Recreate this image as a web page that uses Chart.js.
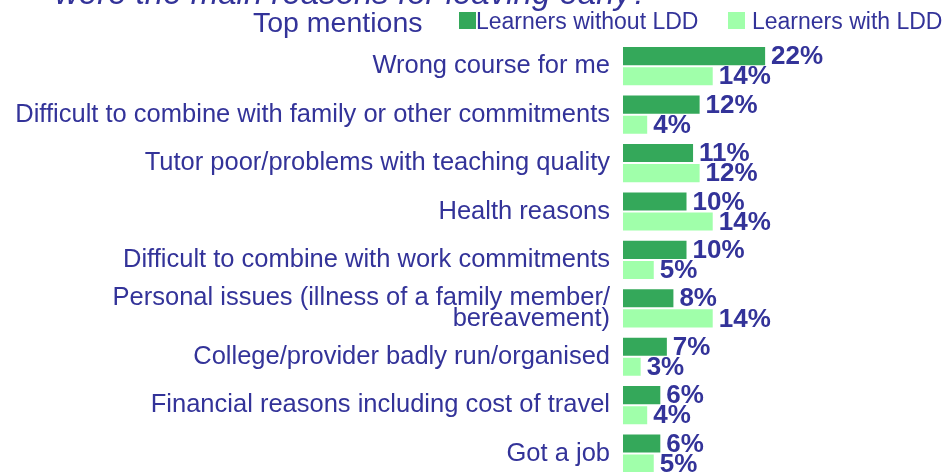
<!DOCTYPE html>
<html>
<head>
<meta charset="utf-8">
<script src="https://cdn.jsdelivr.net/npm/chart.js@4/dist/chart.umd.min.js"></script>
<style>
  html, body { margin: 0; padding: 0; background: #fff; overflow: hidden; }
  canvas { display: block; }
</style>
</head>
<body>
<canvas id="myChart" width="943" height="492"></canvas>
<script>
// data
const reasons = [
    'Wrong course for me',
    'Difficult to combine with family or other commitments',
    'Tutor poor/problems with teaching quality',
    'Health reasons',
    'Difficult to combine with work commitments',
    ['Personal issues (illness of a family member/', 'bereavement)'],
    'College/provider badly run/organised',
    'Financial reasons including cost of travel',
    'Got a job'
];
const withoutLDD = [22, 12, 11, 10, 10, 8, 7, 6, 6];
const withLDD = [14, 4, 12, 14, 5, 14, 3, 4, 5];
const seriesNames = ['Learners without LDD', 'Learners with LDD'];

const textColor = '#333399';
const darkGreen = '#34a85a';
const lightGreen = '#a0ffaa';
const fontFamily = '"Liberation Sans", Arial, sans-serif';

// value labels at the end of each bar
const valueLabels = {
    id: 'valueLabels',
    afterDatasetsDraw(chart) {
        const ctx = chart.ctx;
        ctx.save();
        ctx.font = 'bold 26px ' + fontFamily;
        ctx.fillStyle = textColor;
        ctx.textAlign = 'left';
        ctx.textBaseline = 'middle';
        chart.data.datasets.forEach((ds, i) => {
            chart.getDatasetMeta(i).data.forEach((bar, j) => {
                ctx.fillText(ds.data[j] + '%', bar.x + 5, bar.y + 1);
            });
        });
        ctx.restore();
    }
};

// title, subtitle and legend across the top
const header = {
    id: 'header',
    afterDraw(chart) {
        const ctx = chart.ctx;
        ctx.save();
        ctx.fillStyle = textColor;
        ctx.textBaseline = 'alphabetic';
        ctx.font = 'italic 33px ' + fontFamily;
        ctx.fillText('were the main reasons for leaving early?', 55, 4);

        ctx.font = '28.5px ' + fontFamily;
        ctx.fillText('Top mentions', 253, 32);

        const boxes = [459, 728];
        ctx.font = '23px ' + fontFamily;
        chart.data.datasets.forEach((ds, i) => {
            ctx.fillStyle = ds.backgroundColor;
            ctx.fillRect(boxes[i], 12, 17, 17);
            ctx.fillStyle = textColor;
            ctx.fillText(ds.label, boxes[i] + 17 + (i ? 7 : 0), 29);
        });
        ctx.restore();
    }
};

const config = {
    type: 'bar',
    data: {
        labels: reasons,
        datasets: [{
            label: seriesNames[0],
            data: withoutLDD,
            backgroundColor: darkGreen,
            borderColor: '#ffffff',
            borderWidth: 1,
            borderSkipped: false
        }, {
            label: seriesNames[1],
            data: withLDD,
            backgroundColor: lightGreen,
            borderColor: '#ffffff',
            borderWidth: 1,
            borderSkipped: false
        }]
    },
    options: {
        indexAxis: 'y',
        responsive: false,
        animation: false,
        layout: { padding: { top: 42, bottom: 1, left: 0, right: 0 } },
        plugins: {
            legend: { display: false },
            tooltip: { enabled: false }
        },
        datasets: {
            bar: { categoryPercentage: 0.83, barPercentage: 1.0 }
        },
        scales: {
            x: {
                display: false,
                min: 0,
                max: 49
            },
            y: {
                grid: { display: false },
                border: { display: false },
                afterFit(scale) { scale.width = 622; },
                ticks: {
                    autoSkip: false,
                    padding: 4,
                    color: textColor,
                    font: { family: fontFamily, size: 25.5, lineHeight: 0.8 }
                }
            }
        }
    },
    plugins: [valueLabels, header]
};

new Chart(document.getElementById('myChart'), config);
</script>
</body>
</html>
